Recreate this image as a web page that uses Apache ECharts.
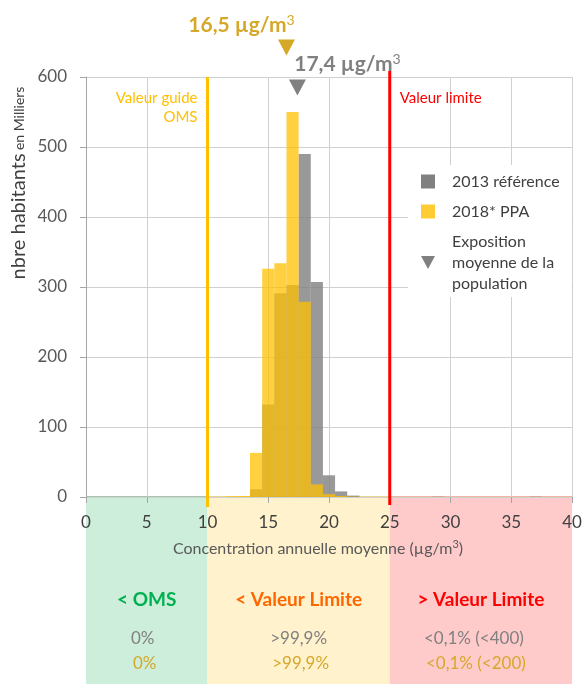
<!DOCTYPE html>
<html>
<head>
<meta charset="utf-8">
<script src="https://cdn.jsdelivr.net/npm/echarts@6/dist/echarts.min.js"></script>
<style>
  html, body { margin: 0; padding: 0; background: #ffffff; }
  #chart { width: 585px; height: 684px; }
</style>
</head>
<body>
<div id="chart"></div>
<script>
// Population exposure histogram: bin centres in µg/m³ (bins are 1 µg/m³ wide)
const binCenters = [12, 13, 14, 15, 16, 17, 18, 19, 20, 21, 22, 29, 37];
// Inhabitants per bin, in thousands
const pop2013 = [0, 0, 11, 132, 291, 303, 490, 307, 31, 8, 2, 0.4, 0.4];
const pop2018 = [1, 1.5, 63, 326, 334, 550, 279, 18, 4, 1.5, 0.5, 0, 0];
const seriesNames = ['2013 référence', '2018* PPA'];
const meanName = 'Exposition moyenne de la population';
// Population-weighted mean exposure: 2013, 2018
const meanExposure = [17.4, 16.5];
// WHO guideline value and regulatory limit value
const thresholds = [10, 25];
const thresholdLabels = ['Valeur guide\nOMS', 'Valeur limite'];
// Summary bands below the axis
const zoneEdges = [0, 10, 25, 40];
const zoneTitles = ['< OMS', '< Valeur Limite', '> Valeur Limite'];
const share2013 = ['0%', '>99,9%', '<0,1% (<400)'];
const share2018 = ['0%', '>99,9%', '<0,1% (<200)'];
const xMin = 0, xMax = 40, xStep = 5;
const yMin = 0, yMax = 600, yStep = 100;

const FONT = 'Lato, "Open Sans", sans-serif';
const GRAY = '#808080';
const GOLD = '#D6A82A';
const barColors = ['rgba(128,128,128,0.8)', 'rgba(255,192,0,0.75)'];
const zoneFill = ['#CCEEDA', '#FFF2CC', '#FFCACA'];
const zoneLine = ['#86B496', '#E2C46E', '#EC9E80'];
const zoneTitleColor = ['#00B050', '#FF6600', '#FF0000'];
const rowShift = [-4, 0, -7];
const thresholdColors = ['#FFC000', '#FF0000'];

const fmt = v => String(v).replace('.', ',');

function histSeries(name, values, color, z) {
  return {
    name: name,
    type: 'custom',
    z: z,
    itemStyle: { color: color },
    data: binCenters.map((b, i) => [b, values[i]]),
    encode: { x: 0, y: 1 },
    renderItem: function (params, api) {
      const x = api.value(0), v = api.value(1);
      const a = api.coord([x - 0.5, v]);
      const b = api.coord([x + 0.5, 0]);
      return {
        type: 'rect',
        shape: { x: a[0], y: a[1], width: b[0] - a[0], height: b[1] - a[1] },
        style: { fill: color }
      };
    }
  };
}

const chart = echarts.init(document.getElementById('chart'), null, { renderer: 'canvas' });

chart.setOption({
  backgroundColor: '#ffffff',
  animation: false,
  textStyle: { fontFamily: FONT },
  grid: { left: 86, right: 13, top: 77, bottom: 187, containLabel: false, outerBoundsMode: 'none' },
  xAxis: {
    type: 'value', min: xMin, max: xMax, interval: xStep,
    axisLine: { show: false },
    axisTick: { show: true, length: 6, lineStyle: { color: '#a6a6a6' } },
    axisLabel: { color: '#404040', fontSize: 17, margin: 17, fontFamily: FONT },
    splitLine: { show: true, lineStyle: { color: '#d0d0d0', width: 1 } },
    name: '{a|Concentration annuelle moyenne (µg/m}{s|3}{a|)}',
    nameLocation: 'middle',
    nameGap: 42,
    nameTextStyle: {
      padding: [0, 22, 0, 0],
      rich: {
        a: { fontSize: 16, color: '#595959', fontFamily: FONT, lineHeight: 20 },
        s: { fontSize: 11, color: '#595959', fontFamily: FONT, verticalAlign: 'top', lineHeight: 14 }
      }
    }
  },
  yAxis: {
    type: 'value', min: yMin, max: yMax, interval: yStep,
    axisLine: { show: true, lineStyle: { color: '#a6a6a6' } },
    axisTick: { show: true, length: 6, lineStyle: { color: '#a6a6a6' } },
    axisLabel: { color: '#595959', fontSize: 17, margin: 19, fontFamily: FONT },
    splitLine: { show: true, lineStyle: { color: '#d0d0d0', width: 1 } }
  },
  legend: {
    orient: 'vertical',
    left: 408, top: 165,
    padding: [6, 12, 3, 13],
    backgroundColor: '#ffffff',
    itemWidth: 14, itemHeight: 14, itemGap: 9,
    data: [
      { name: seriesNames[0], icon: 'rect', itemStyle: { color: '#808080' } },
      { name: seriesNames[1], icon: 'rect', itemStyle: { color: '#FFCC33' } },
      { name: meanName, icon: 'path://M0,0L16,0L8,15Z', itemStyle: { color: '#808080' } }
    ],
    formatter: function (name) {
      if (name === meanName) return '{t|Exposition}\n{t|moyenne de la}\n{t|population}';
      return '{t|' + name + '}';
    },
    textStyle: {
      color: '#404040', fontSize: 16, lineHeight: 21, fontFamily: FONT,
      rich: { t: { padding: [0, 0, 0, 12], fontSize: 16, lineHeight: 21, color: '#404040', fontFamily: FONT } }
    },
    selectedMode: false
  },
  graphic: [{
    type: 'text',
    x: 19, y: 183,
    rotation: Math.PI / 2,
    style: {
      text: '{a|nbre habitants} {b|en Milliers}',
      align: 'center', verticalAlign: 'middle',
      fill: '#404040',
      rich: {
        a: { fontSize: 20, fontFamily: FONT, fill: '#404040' },
        b: { fontSize: 14, fontFamily: FONT, fill: '#404040' }
      }
    }
  }],
  series: [
    // Coloured summary bands under the x axis
    {
      type: 'custom', z: -1, silent: true, clip: false,
      data: zoneTitles.map((t, i) => [zoneEdges[i], zoneEdges[i + 1], i]),
      encode: { x: [0, 1], y: 2 },
      renderItem: function (params, api) {
        const i = api.value(2);
        const a = api.coord([api.value(0), 0]);
        const b = api.coord([api.value(1), 0]);
        const cx = (a[0] + b[0]) / 2;
        const y0 = a[1];
        return {
          type: 'group',
          children: [
            { type: 'rect', shape: { x: a[0], y: y0, width: b[0] - a[0], height: api.getHeight() - y0 }, style: { fill: zoneFill[i] } },
            { type: 'line', shape: { x1: a[0], y1: y0, x2: b[0], y2: y0 }, style: { stroke: zoneLine[i], lineWidth: 1.5 } },
            { type: 'text', x: cx, y: y0 + 103, style: { text: zoneTitles[i], fill: zoneTitleColor[i], fontSize: 19, fontWeight: 'bold', fontFamily: FONT, align: 'center', verticalAlign: 'middle' } },
            { type: 'text', x: cx + rowShift[i], y: y0 + 142, style: { text: share2013[i], fill: GRAY, fontSize: 17, fontFamily: FONT, align: 'center', verticalAlign: 'middle' } },
            { type: 'text', x: cx + rowShift[i] + 2, y: y0 + 167, style: { text: share2018[i], fill: GOLD, fontSize: 17, fontFamily: FONT, align: 'center', verticalAlign: 'middle' } }
          ]
        };
      }
    },
    histSeries(seriesNames[0], pop2013, barColors[0], 2),
    histSeries(seriesNames[1], pop2018, barColors[1], 3),
    // Guideline and limit value lines
    {
      type: 'custom', z: 4, silent: true, clip: false,
      data: thresholds.map((t, i) => [t, i]),
      encode: { x: 0, y: 1 },
      renderItem: function (params, api) {
        const x = api.value(0), i = api.value(1);
        const top = api.coord([x, yMax]);
        const bot = api.coord([x, 0]);
        const isGuide = i === 0;
        return {
          type: 'group',
          children: [
            { type: 'line', shape: { x1: top[0], y1: top[1] - (isGuide ? 0 : 6), x2: bot[0], y2: bot[1] + (isGuide ? 10 : 8) }, style: { stroke: thresholdColors[i], lineWidth: 3 } },
            {
              type: 'text',
              x: top[0] + (isGuide ? -10 : 10),
              y: top[1] + (isGuide ? 31 : 21.5),
              style: {
                text: thresholdLabels[i], fill: thresholdColors[i], fontSize: 15, fontFamily: FONT, lineHeight: 19,
                align: isGuide ? 'right' : 'left', verticalAlign: 'middle'
              }
            }
          ]
        };
      }
    },
    // Mean exposure markers with their values
    {
      name: meanName,
      type: 'custom', z: 5, clip: false,
      itemStyle: { color: '#808080' },
      data: meanExposure.map((v, i) => [v, i]),
      encode: { x: 0, y: 1 },
      renderItem: function (params, api) {
        const v = api.value(0), i = api.value(1);
        const c = api.coord([v, yMax]);
        const is2013 = i === 0;
        const color = is2013 ? '#808080' : GOLD;
        const tTop = c[1] + (is2013 ? 2.5 : -37.5);
        return {
          type: 'group',
          children: [
            { type: 'polygon', shape: { points: [[c[0] - 8.5, tTop], [c[0] + 8.5, tTop], [c[0], tTop + 16]] }, style: { fill: color } },
            {
              type: 'text',
              x: c[0] + (is2013 ? 50 : -45),
              y: c[1] + (is2013 ? -12.5 : -51.5),
              style: {
                text: '{v|' + fmt(v) + ' µg/m}{s|3}',
                fill: color,
                align: 'center', verticalAlign: 'middle',
                rich: {
                  v: { fontSize: 21, fontWeight: 'bold', fontFamily: FONT, fill: color, lineHeight: 24 },
                  s: { fontSize: 14, fontFamily: FONT, fill: color, verticalAlign: 'top', lineHeight: 14 }
                }
              }
            }
          ]
        };
      }
    }
  ]
});
</script>
</body>
</html>
